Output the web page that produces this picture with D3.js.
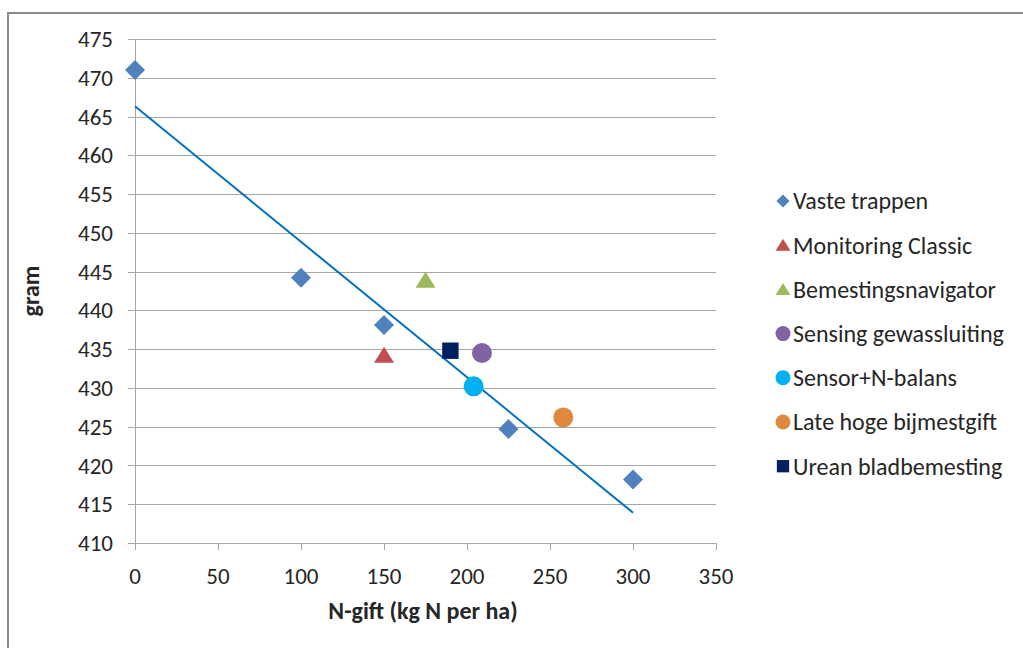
<!DOCTYPE html>
<html><head><meta charset="utf-8">
<script src="https://cdn.jsdelivr.net/npm/d3@7"></script>
<style>body{margin:0;background:#fff}svg{display:block}</style>
</head><body>
<svg id="c" width="1023" height="648"></svg>
<script>
const seriesNames = ["Vaste trappen","Monitoring Classic","Bemestingsnavigator","Sensing gewassluiting","Sensor+N-balans","Late hoge bijmestgift","Urean bladbemesting"];
const seriesColors = ["#4F81BD","#C0504D","#9BBB59","#8064A2","#00B0F0","#E0893E","#002060"];
const seriesShapes = ["diamond","triangle","triangle","circle","circle","circle","square"];
const vasteX = [0,100,150,225,300];
const vasteY = [471,444.2,438.1,424.7,418.2];
const monitoringX = [150], monitoringY = [434.2];
const bemestX = [175], bemestY = [443.9];
const sensingX = [209], sensingY = [434.5];
const sensorX = [204], sensorY = [430.2];
const lateX = [258], lateY = [426.2];
const ureanX = [190], ureanY = [434.8];
const xTicks = [0,50,100,150,200,250,300,350];
const yTicks = [410,415,420,425,430,435,440,445,450,455,460,465,470,475];

const seriesX = [vasteX,monitoringX,bemestX,sensingX,sensorX,lateX,ureanX];
const seriesY = [vasteY,monitoringY,bemestY,sensingY,sensorY,lateY,ureanY];

const svg = d3.select("#c");
const font = "Carlito, Calibri, 'Open Sans', sans-serif";
// outer frame (top and left visible)
svg.append("line").attr("x1",7).attr("x2",1023).attr("y1",13).attr("y2",13).attr("stroke","#8a8a8a").attr("stroke-width",2);
svg.append("line").attr("x1",8).attr("x2",8).attr("y1",12).attr("y2",648).attr("stroke","#8a8a8a").attr("stroke-width",2);

const x = d3.scaleLinear().domain([0,350]).range([135,716]);
const y = d3.scaleLinear().domain([410,475]).range([543,39]);

// grid
svg.append("g").selectAll("line").data(yTicks).join("line")
  .attr("x1",128).attr("x2",716).attr("y1",d=>Math.round(y(d))+0.5).attr("y2",d=>Math.round(y(d))+0.5)
  .attr("stroke","#a6a6a6").attr("stroke-width",1);
svg.append("line").attr("x1",135.5).attr("x2",135.5).attr("y1",39).attr("y2",543)
  .attr("stroke","#a6a6a6");
svg.append("g").selectAll("line").data(xTicks).join("line")
  .attr("x1",d=>Math.round(x(d))+0.5).attr("x2",d=>Math.round(x(d))+0.5).attr("y1",543).attr("y2",550)
  .attr("stroke","#a6a6a6");
// tick labels
svg.append("g").selectAll("text").data(yTicks).join("text")
  .attr("x",113).attr("y",d=>y(d)).attr("dy","0.35em").attr("text-anchor","end")
  .attr("font-family",font).attr("font-size",23).attr("fill","#262626").text(d=>d);
svg.append("g").selectAll("text").data(xTicks).join("text")
  .attr("x",d=>x(d)).attr("y",576).attr("dy","0.35em").attr("text-anchor","middle")
  .attr("font-family",font).attr("font-size",23).attr("fill","#262626").text(d=>d);
// axis titles
svg.append("text").attr("x",423).attr("y",611).attr("dy","0.35em").attr("text-anchor","middle")
  .attr("font-family",font).attr("font-size",24).attr("font-weight","bold").attr("fill","#262626")
  .text("N-gift (kg N per ha)");
svg.append("text").attr("transform","translate(31,291) rotate(-90)").attr("dy","0.35em").attr("text-anchor","middle")
  .attr("font-family",font).attr("font-size",24).attr("font-weight","bold").attr("fill","#262626")
  .text("gram");

// trendline (least squares on Vaste trappen)
const mx = d3.mean(vasteX), my = d3.mean(vasteY);
const slope = d3.sum(vasteX.map((v,i)=>(v-mx)*(vasteY[i]-my))) / d3.sum(vasteX.map(v=>(v-mx)*(v-mx)));
const icpt = my - slope*mx;
svg.append("line").attr("x1",x(0)).attr("y1",y(icpt)).attr("x2",x(300)).attr("y2",y(icpt+slope*300))
  .attr("stroke","#0070C0").attr("stroke-width",2);

function symbolPath(shape, s){
  if(shape==="diamond") return `M0,${-s}L${s},0L0,${s}L${-s},0Z`;
  if(shape==="triangle") return `M0,${-s*0.85}L${s},${s*0.75}L${-s},${s*0.75}Z`;
  if(shape==="square") return `M${-s*0.82},${-s*0.82}H${s*0.82}V${s*0.82}H${-s*0.82}Z`;
  return d3.arc()({innerRadius:0,outerRadius:s,startAngle:0,endAngle:2*Math.PI});
}
const pts = [];
seriesX.forEach((xs,i)=>xs.forEach((v,j)=>pts.push({i,x:v,y:seriesY[i][j]})));
svg.append("g").selectAll("path").data(pts).join("path")
  .attr("transform",d=>`translate(${x(d.x)},${y(d.y)})`)
  .attr("d",d=>symbolPath(seriesShapes[d.i],10))
  .attr("fill",d=>seriesColors[d.i]);

// legend
const lg = svg.append("g").selectAll("g").data(seriesNames).join("g")
  .attr("transform",(d,i)=>`translate(783,${201+i*44.2})`);
lg.append("path").attr("d",(d,i)=>symbolPath(seriesShapes[i],seriesShapes[i]==="diamond"?6.5:7.5))
  .attr("fill",(d,i)=>seriesColors[i]);
lg.append("text").attr("x",10).attr("dy","0.35em").attr("font-family",font).attr("font-size",24)
  .attr("fill","#262626").text(d=>d);
</script>
</body></html>
